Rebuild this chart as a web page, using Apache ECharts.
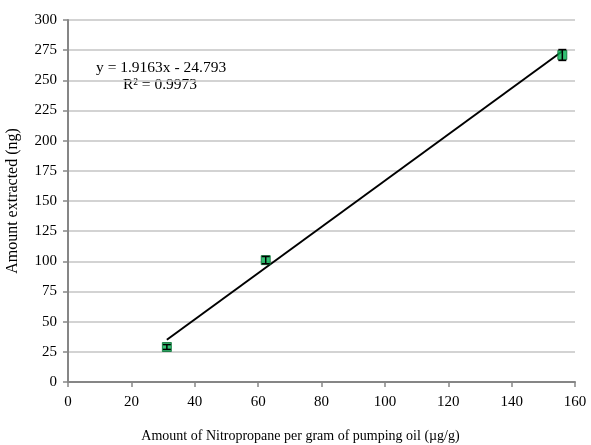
<!DOCTYPE html>
<html>
<head>
<meta charset="utf-8">
<script src="https://cdn.jsdelivr.net/npm/echarts@6/dist/echarts.min.js"></script>
<style>
  html, body { margin: 0; padding: 0; background: #fff; }
  #chart { width: 591px; height: 445px; }
</style>
</head>
<body>
<div id="chart"></div>
<script>
// Nitropropane concentration in pumping oil (µg/g) vs amount extracted (ng)
var concentrations = [31.2, 62.4, 156];
var extracted = [29, 101, 271];
var errors = [2, 3, 4.5];

// Linear fit reported on the chart
var slope = 1.9163;
var intercept = -24.793;
var rSquared = 0.9973;

var xTicks = [0, 20, 40, 60, 80, 100, 120, 140, 160];
var yTicks = [0, 25, 50, 75, 100, 125, 150, 175, 200, 225, 250, 275, 300];

var points = concentrations.map(function (x, i) { return [x, extracted[i]]; });
var errData = concentrations.map(function (x, i) {
  return [x, extracted[i] - errors[i], extracted[i] + errors[i]];
});
var xMinData = Math.min.apply(null, concentrations);
var xMaxData = Math.max.apply(null, concentrations);
var fitLine = [xMinData, xMaxData].map(function (x) { return [x, slope * x + intercept]; });

var font = 'Liberation Serif';
var chart = echarts.init(document.getElementById('chart'), null, { renderer: 'canvas' });

chart.setOption({
  animation: false,
  backgroundColor: '#ffffff',
  grid: { left: 68, right: 16, top: 20, bottom: 63, containLabel: false, outerBoundsMode: 'none' },
  xAxis: {
    type: 'value', min: xTicks[0], max: xTicks[xTicks.length - 1], interval: xTicks[1] - xTicks[0],
    name: 'Amount of Nitropropane per gram of pumping oil (µg/g)',
    nameLocation: 'middle', nameGap: 47,
    nameTextStyle: { fontFamily: font, fontSize: 14, color: '#000', padding: [0, 42, 0, 0] },
    axisLine: { show: true, onZero: false, lineStyle: { color: '#868686', width: 2 } },
    axisTick: { show: true, length: 5, lineStyle: { color: '#868686', width: 1.5 } },
    axisLabel: { fontFamily: font, fontSize: 15, color: '#000', margin: 13 },
    splitLine: { show: false }
  },
  yAxis: {
    type: 'value', min: yTicks[0], max: yTicks[yTicks.length - 1], interval: yTicks[1] - yTicks[0],
    name: 'Amount extracted (ng)',
    nameLocation: 'middle', nameGap: 47, nameRotate: 90,
    nameTextStyle: { fontFamily: font, fontSize: 16, color: '#000' },
    axisLine: { show: true, onZero: false, lineStyle: { color: '#868686', width: 2 } },
    axisTick: { show: true, length: 5, lineStyle: { color: '#868686', width: 1.5 } },
    axisLabel: { fontFamily: font, fontSize: 15, color: '#000', margin: 11 },
    splitLine: { show: true, lineStyle: { color: '#c4c4c4', width: 1.5 } }
  },
  series: [
    {
      type: 'line',
      data: fitLine,
      showSymbol: false,
      lineStyle: { color: '#000', width: 2 },
      z: 3,
      silent: true
    },
    {
      type: 'scatter',
      data: points,
      symbol: 'rect',
      symbolSize: 9,
      itemStyle: { color: '#00b050', borderColor: '#0a6e33', borderWidth: 1 },
      z: 4
    },
    {
      type: 'custom',
      data: errData,
      z: 5,
      renderItem: function (params, api) {
        var x = api.value(0);
        var lo = api.coord([x, api.value(1)]);
        var hi = api.coord([x, api.value(2)]);
        var w = 4;
        var style = { stroke: '#000', lineWidth: 1.5 };
        return {
          type: 'group',
          children: [
            { type: 'line', shape: { x1: lo[0], y1: lo[1], x2: hi[0], y2: hi[1] }, style: style },
            { type: 'line', shape: { x1: lo[0] - w, y1: lo[1], x2: lo[0] + w, y2: lo[1] }, style: style },
            { type: 'line', shape: { x1: hi[0] - w, y1: hi[1], x2: hi[0] + w, y2: hi[1] }, style: style }
          ]
        };
      }
    }
  ],
  graphic: [
    {
      type: 'text', left: 96, top: 60,
      style: { text: 'y = ' + slope + 'x - ' + Math.abs(intercept), fontFamily: font, fontSize: 15.5, fill: '#000' }
    },
    {
      type: 'text', left: 123, top: 77,
      style: { text: 'R² = ' + rSquared, fontFamily: font, fontSize: 15.5, fill: '#000' }
    }
  ]
});
</script>
</body>
</html>
